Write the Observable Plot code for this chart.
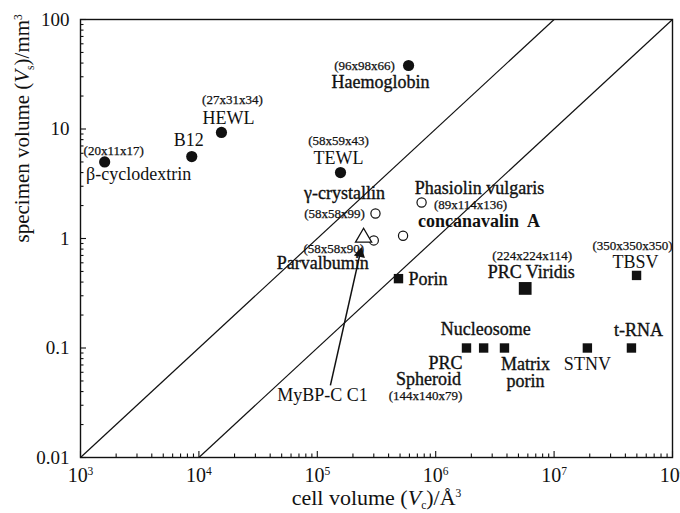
<!DOCTYPE html>
<html>
<head>
<meta charset="utf-8">
<script src="https://cdn.jsdelivr.net/npm/d3@7"></script>
<script src="https://cdn.jsdelivr.net/npm/@observablehq/plot@0.6"></script>
<style>
  body { margin: 0; background: #fff; }
  #chart svg { display: block; }
</style>
</head>
<body>
<div id="chart"></div>
<script>
// Cell volume Vc (Å^3) against specimen volume Vs (mm^3) for a range of crystals.

// filled circles: small molecules and small proteins
const filledCircles = [
  { name: "β-cyclodextrin", vc: 1.6e3,  vs: 5.0 },
  { name: "B12",            vc: 8.7e3,  vs: 5.6 },
  { name: "HEWL",           vc: 1.55e4, vs: 9.3 },
  { name: "TEWL",           vc: 1.57e5, vs: 4.0 },
  { name: "Haemoglobin",    vc: 5.9e5,  vs: 38 }
];

// open circles
const openCircles = [
  { name: "γ-crystallin",       vc: 3.1e5, vs: 1.69 },
  { name: "Parvalbumin",        vc: 3.0e5, vs: 0.96 },
  { name: "concanavalin A",     vc: 5.3e5, vs: 1.06 },
  { name: "Phasiolin vulgaris", vc: 7.6e5, vs: 2.13 }
];

// open triangle
const openTriangles = [
  { name: "triangle", vc: 2.46e5, vs: 1.02 }
];

// filled squares
const filledSquares = [
  { name: "Porin",        vc: 4.85e5, vs: 0.43 },
  { name: "TBSV",         vc: 4.97e7, vs: 0.46 },
  { name: "PRC Spheroid", vc: 1.82e6, vs: 0.10 },
  { name: "Nucleosome",   vc: 2.54e6, vs: 0.10 },
  { name: "Matrix porin", vc: 3.81e6, vs: 0.10 },
  { name: "STNV",         vc: 1.91e7, vs: 0.10 },
  { name: "t-RNA",        vc: 4.5e7,  vs: 0.10 }
];

// large filled square
const largeSquares = [
  { name: "PRC Viridis", vc: 5.7e6, vs: 0.35 }
];

// MyBP-C C1 pointer: from its label up to the crystal
const pointer = [
  { name: "MyBP-C C1", vc1: 1.29e5, vs1: 0.0455, vc2: 2.3e5, vs2: 0.73 }
];

// guide lines of constant Vs/Vc
const guideLines = [
  { vc1: 1e3, vs1: 0.01, vc2: 1e7, vs2: 100 },
  { vc1: 1e4, vs1: 0.01, vc2: 1e8, vs2: 100 }
];

// axis ticks and their labels
const xTicks = [1e3, 1e4, 1e5, 1e6, 1e7, 1e8];
const xTickLabels = ["10<sup>3</sup>", "10<sup>4</sup>", "10<sup>5</sup>", "10<sup>6</sup>", "10<sup>7</sup>", "10<sup>8</sup>"];
const yTicks = [0.01, 0.1, 1, 10, 100];
const yTickLabels = ["0.01", "0.1", "1", "10", "100"];

const xTitle = "cell volume (<i>V</i><sub>c</sub>)/Å<sup>3</sup>";
const yTitle = "specimen volume (<i>V</i><sub>s</sub>)/mm<sup>3</sup>";

// annotations: text placed next to a named crystal (offsets in pixels)
const labels = [
  { text: "(20x11x17)",      at: "β-cyclodextrin",     dx: 9,   dy: -11, small: true },
  { text: "β-cyclodextrin",  at: "β-cyclodextrin",     dx: 34,  dy: 12 },
  { text: "B12",             at: "B12",                dx: -3,  dy: -16 },
  { text: "(27x31x34)",      at: "HEWL",               dx: 11,  dy: -33, small: true },
  { text: "HEWL",            at: "HEWL",               dx: 7,   dy: -14 },
  { text: "(58x59x43)",      at: "TEWL",               dx: -2,  dy: -32, small: true },
  { text: "TEWL",            at: "TEWL",               dx: -2,  dy: -14 },
  { text: "(96x98x66)",      at: "Haemoglobin",        dx: -44, dy: 0,   small: true },
  { text: "Haemoglobin",     at: "Haemoglobin",        dx: -28, dy: 17,  heavy: true },
  { text: "γ-crystallin",    at: "γ-crystallin",       dx: -31, dy: -20, heavy: true },
  { text: "(58x58x99)",      at: "γ-crystallin",       dx: -41, dy: 0,   small: true },
  { text: "(58x58x90)",      at: "Parvalbumin",        dx: -40, dy: 8,   small: true },
  { text: "Parvalbumin",     at: "Parvalbumin",        dx: -51, dy: 23,  heavy: true },
  { text: "Phasiolin vulgaris", at: "Phasiolin vulgaris", dx: 58, dy: -14, heavy: true },
  { text: "(89x114x136)",    at: "Phasiolin vulgaris", dx: 49,  dy: 2,   small: true },
  { text: "concanavalin  A", at: "concanavalin A",     dx: 76,  dy: -14, bold: true },
  { text: "(224x224x114)",   at: "PRC Viridis",        dx: 7,   dy: -33, small: true },
  { text: "PRC Viridis",     at: "PRC Viridis",        dx: 6,   dy: -16, heavy: true },
  { text: "(350x350x350)",   at: "TBSV",               dx: -4,  dy: -30, small: true },
  { text: "TBSV",            at: "TBSV",               dx: -1,  dy: -13 },
  { text: "Porin",           at: "Porin",              dx: 10,  dy: 1,   anchor: "start", heavy: true },
  { text: "Nucleosome",      at: "Nucleosome",         dx: 2,   dy: -19, heavy: true },
  { text: "PRC",             at: "PRC Spheroid",       dx: -21, dy: 15,  heavy: true },
  { text: "Spheroid",        at: "PRC Spheroid",       dx: -38, dy: 31,  heavy: true },
  { text: "(144x140x79)",    at: "PRC Spheroid",       dx: -41, dy: 48,  small: true },
  { text: "Matrix",          at: "Matrix porin",       dx: 21,  dy: 16,  heavy: true },
  { text: "porin",           at: "Matrix porin",       dx: 21,  dy: 33,  heavy: true },
  { text: "STNV",            at: "STNV",               dx: 0,   dy: 16 },
  { text: "t-RNA",           at: "t-RNA",              dx: 7,   dy: -18, heavy: true },
  { text: "MyBP-C C1",       at: "MyBP-C C1",          dx: -8,  dy: 10 }
];

// lookup of anchor points for annotations
const anchors = new Map();
for (const d of [...filledCircles, ...openCircles, ...filledSquares, ...largeSquares]) anchors.set(d.name, d);
for (const p of pointer) anchors.set(p.name, { vc: p.vc1, vs: p.vs1 });

// minor ticks for each decade
const decadeMinor = (lo, hi) => {
  const out = [];
  for (let e = lo; e < hi; e++) for (let m = 2; m <= 9; m++) out.push(m * Math.pow(10, e));
  return out;
};
const xMinor = decadeMinor(3, 8);
const yMinor = decadeMinor(-2, 2);

const ink = "#111";
const serif = "'Liberation Serif', 'Times New Roman', serif";

const W = 680, H = 513;
const M = { top: 19, right: 8, bottom: 56, left: 80 };
const innerW = W - M.left - M.right;
const innerH = H - M.top - M.bottom;

// inward tick marks: rules inset so only a short stub remains on the frame edge
const xInward = (values, len) => Plot.ruleX(values, { x: d => d, insetTop: innerH - len, stroke: ink, strokeWidth: 1.1 });
const yInward = (values, len) => Plot.ruleY(values, { y: d => d, insetRight: innerW - len, stroke: ink, strokeWidth: 1.1 });

const labelMarks = labels.map(l => Plot.text([l], {
  x: d => anchors.get(d.at).vc,
  y: d => anchors.get(d.at).vs,
  text: "text",
  dx: l.dx,
  dy: l.dy,
  textAnchor: l.anchor || "middle",
  lineAnchor: "middle",
  fontSize: l.small ? 13 : 18,
  fontWeight: l.bold ? "bold" : "normal",
  fill: ink,
  stroke: l.heavy || l.small ? ink : null,
  strokeWidth: l.small ? 0.25 : 0.35
}));

const chart = Plot.plot({
  width: W,
  height: H,
  marginLeft: M.left,
  marginRight: M.right,
  marginTop: M.top,
  marginBottom: M.bottom,
  x: { type: "log", domain: [1e3, 1e8] },
  y: { type: "log", domain: [0.01, 100] },
  style: { fontFamily: serif, color: ink, background: "#fff", overflow: "visible" },
  marks: [
    xInward(xMinor, 3.5),
    xInward(xTicks, 6),
    yInward(yMinor, 3.5),
    yInward(yTicks, 6),
    Plot.axisX(xTicks, { tickSize: 0, tickPadding: 10, fontSize: 20, label: null,
      tickFormat: d => xTickLabels[xTicks.indexOf(d)], fill: ink }),
    Plot.axisY(yTicks, { tickSize: 0, tickPadding: 11, fontSize: 19, label: null,
      tickFormat: d => yTickLabels[yTicks.indexOf(d)], fill: ink }),
    Plot.frame({ stroke: ink, strokeWidth: 1.4 }),

    // axis titles
    Plot.text([xTitle], { frameAnchor: "bottom", dy: 40, fontSize: 22, lineAnchor: "middle", fill: ink }),
    Plot.text([yTitle], { frameAnchor: "left", dx: -58, dy: 4, rotate: -90, fontSize: 21, lineAnchor: "middle", fill: ink }),

    ...labelMarks,

    Plot.link(guideLines, { x1: "vc1", y1: "vs1", x2: "vc2", y2: "vs2", stroke: ink, strokeWidth: 1.2 }),
    Plot.link(pointer, { x1: "vc1", y1: "vs1", x2: "vc2", y2: "vs2", stroke: ink, strokeWidth: 1.5 }),
    Plot.dot(pointer, { x: "vc2", y: "vs2", symbol: "triangle", r: 4.2, fill: ink, rotate: 13 }),

    Plot.dot(filledCircles, { x: "vc", y: "vs", r: 5.6, fill: ink }),
    Plot.dot(openCircles, { x: "vc", y: "vs", r: 4.6, fill: "#fff", stroke: ink, strokeWidth: 1.2 }),
    Plot.dot(openTriangles, { x: "vc", y: "vs", symbol: "triangle", r: 6, fill: "#fff", stroke: ink, strokeWidth: 1.3 }),
    Plot.dot(filledSquares, { x: "vc", y: "vs", symbol: "square", r: 5.3, fill: ink }),
    Plot.dot(largeSquares, { x: "vc", y: "vs", symbol: "square", r: 7.2, fill: ink })
  ]
});

// turn <i>, <sub>, <sup> markup in text into styled tspans
d3.select(chart).selectAll("text").each(function () {
  const raw = this.textContent;
  if (!/<(i|sub|sup)>/.test(raw)) return;
  const size = parseFloat(getComputedStyle(this).fontSize) || 16;
  const el = d3.select(this);
  el.text(null);
  const re = /<(i|sub|sup)>(.*?)<\/\1>/g;
  let last = 0, shift = 0, m;
  const add = (str, kind) => {
    if (!str) return;
    const t = el.append("tspan").text(str);
    let target = 0;
    if (kind === "sub") { target = 0.28 * size; t.attr("font-size", 0.72 * size); }
    if (kind === "sup") { target = -0.45 * size; t.attr("font-size", 0.72 * size); }
    if (kind === "i") t.attr("font-style", "italic");
    if (target !== shift) { t.attr("dy", target - shift); shift = target; }
  };
  while ((m = re.exec(raw))) {
    add(raw.slice(last, m.index), null);
    add(m[2], m[1]);
    last = re.lastIndex;
  }
  add(raw.slice(last), null);
});

document.getElementById("chart").appendChild(chart);
</script>
</body>
</html>
